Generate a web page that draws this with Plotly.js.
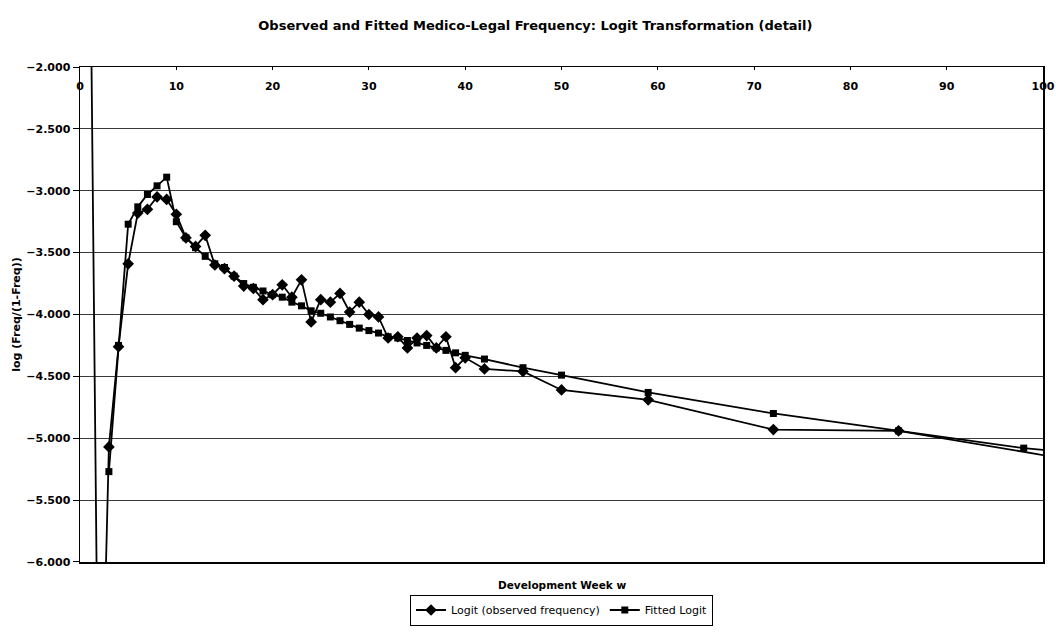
<!DOCTYPE html>
<html>
<head>
<meta charset="utf-8">
<script src="https://cdn.plot.ly/plotly-3.0.1.min.js"></script>
<style>
  html, body { margin: 0; padding: 0; background: #ffffff; }
  #chart { width: 1056px; height: 633px; }
</style>
</head>
<body>
<div id="chart"></div>
<script>
// Development weeks and logit of the observed medico-legal frequency
const obsWeeks = [1, 2, 3, 4, 5, 6, 7, 8, 9, 10, 11, 12, 13, 14, 15, 16, 17, 18, 19, 20,
  21, 22, 23, 24, 25, 26, 27, 28, 29, 30, 31, 32, 33, 34, 35, 36, 37, 38, 39, 40,
  42, 46, 50, 59, 72, 85, 111];
const obsLogit = [-0.48, -8.2, -5.07, -4.26, -3.59, -3.18, -3.15, -3.05, -3.07, -3.19,
  -3.38, -3.45, -3.36, -3.60, -3.63, -3.69, -3.77, -3.79, -3.88, -3.84,
  -3.76, -3.86, -3.72, -4.06, -3.88, -3.90, -3.83, -3.98, -3.90, -4.00,
  -4.02, -4.19, -4.18, -4.27, -4.19, -4.17, -4.27, -4.18, -4.43, -4.35,
  -4.44, -4.46, -4.61, -4.69, -4.93, -4.94, -5.28];

// Fitted logit curve
const fitWeeks = [3, 4, 5, 6, 7, 8, 9, 10, 11, 12, 13, 14, 15, 16, 17, 18, 19, 20,
  21, 22, 23, 24, 25, 26, 27, 28, 29, 30, 31, 32, 33, 34, 35, 36, 37, 38, 39, 40,
  42, 46, 50, 59, 72, 85, 98, 111];
const fitLogit = [-5.27, -4.25, -3.27, -3.13, -3.03, -2.96, -2.89, -3.25, -3.38, -3.46,
  -3.53, -3.59, -3.62, -3.69, -3.75, -3.78, -3.81, -3.84,
  -3.86, -3.90, -3.93, -3.97, -3.99, -4.02, -4.05, -4.08, -4.11, -4.13, -4.15, -4.18,
  -4.19, -4.21, -4.23, -4.25, -4.27, -4.29, -4.31, -4.33,
  -4.36, -4.43, -4.49, -4.63, -4.80, -4.94, -5.08, -5.17];

// Axis ticks
const weekTicks = [0, 10, 20, 30, 40, 50, 60, 70, 80, 90, 100];
const logitTicks = [-6, -5.5, -5, -4.5, -4, -3.5, -3, -2.5, -2];

const seriesNames = ['Logit (observed frequency)', 'Fitted Logit'];
const chartTitle = 'Observed and Fitted Medico-Legal Frequency: Logit Transformation (detail)';
const xTitle = 'Development Week w';
const yTitle = 'log (Freq/(1-Freq))';

const FONT = 'DejaVu Sans, Liberation Sans, sans-serif';

const traces = [
  {
    x: obsWeeks, y: obsLogit, name: seriesNames[0],
    type: 'scatter', mode: 'lines+markers',
    line: { color: '#000000', width: 1.8 },
    marker: { symbol: 'diamond', size: 9, color: '#000000' }
  },
  {
    x: fitWeeks, y: fitLogit, name: seriesNames[1],
    type: 'scatter', mode: 'lines+markers',
    line: { color: '#000000', width: 1.8 },
    marker: { symbol: 'square', size: 7, color: '#000000' }
  }
];

const layout = {
  width: 1056, height: 633,
  paper_bgcolor: '#ffffff', plot_bgcolor: '#ffffff',
  margin: { l: 80, r: 13, t: 67, b: 71, autoexpand: false },
  showlegend: true,
  title: {
    text: chartTitle,
    font: { family: FONT, size: 13, color: '#000000', weight: 'bold' },
    x: 0.507, xref: 'container', xanchor: 'center',
    y: 0.9605, yref: 'container', yanchor: 'middle'
  },
  xaxis: {
    range: [-0.001, 100.001],
    tickmode: 'array', tickvals: weekTicks,
    side: 'top', ticklabelposition: 'inside', ticklabeloverflow: 'allow',
    ticklabelstandoff: 12,
    ticks: 'inside', ticklen: 3, tickcolor: '#000000',
    showline: true, linecolor: '#000000', linewidth: 1.5, mirror: true,
    showgrid: false, zeroline: false,
    tickfont: { family: FONT, size: 11, color: '#000000', weight: 'bold' }
  },
  yaxis: {
    range: [-6.0005, -1.9995],
    tickmode: 'array', tickvals: logitTicks,
    tickformat: '.3f',
    ticks: 'outside', ticklen: 6, tickcolor: '#000000',
    showline: true, linecolor: '#000000', linewidth: 1.5, mirror: true,
    showgrid: true, gridcolor: '#3a3a3a', gridwidth: 1,
    zeroline: false,
    tickfont: { family: FONT, size: 11, color: '#000000', weight: 'bold' },
    title: {
      text: yTitle, standoff: 3,
      font: { family: FONT, size: 11, color: '#000000', weight: 'bold' }
    }
  },
  legend: {
    orientation: 'h',
    x: 0.3427, xanchor: 'left',
    y: -0.097, yanchor: 'middle',
    bordercolor: '#000000', borderwidth: 1,
    bgcolor: '#ffffff',
    font: { family: FONT, size: 11, color: '#000000' },
    itemwidth: 30, tracegroupgap: 0
  },
  annotations: [
    {
      text: xTitle, showarrow: false,
      xref: 'paper', x: 0.5, xanchor: 'center',
      yref: 'paper', y: -0.047, yanchor: 'middle',
      font: { family: FONT, size: 10.5, color: '#000000', weight: 'bold' }
    }
  ]
};

Plotly.newPlot('chart', traces, layout, { displayModeBar: false, staticPlot: true });
</script>
</body>
</html>
